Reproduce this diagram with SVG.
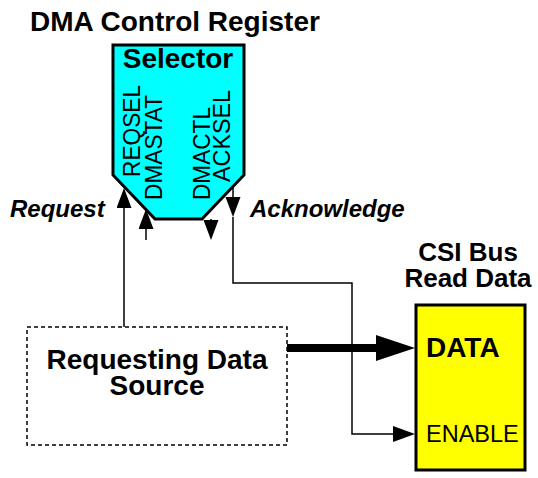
<svg xmlns="http://www.w3.org/2000/svg" width="538" height="478" viewBox="0 0 538 478">
<style>
text{font-family:"Liberation Sans",Arial,sans-serif;fill:#000}
.b{font-weight:bold}
.bi{font-weight:bold;font-style:italic;font-size:24px}
.big{font-size:28px;font-weight:bold}
.sig{font-size:23.5px}
.ln{fill:none;stroke:#000;stroke-width:1.5}
</style>
<defs>
<marker id="ah" markerUnits="userSpaceOnUse" markerWidth="21" markerHeight="16" refX="0" refY="7.5" orient="auto"><path d="M0,0 L20,7.5 L0,15 z" fill="#000"/></marker>
<marker id="ah2" markerUnits="userSpaceOnUse" markerWidth="23" markerHeight="17" refX="0" refY="8" orient="auto"><path d="M0,0 L22,8 L0,16 z" fill="#000"/></marker>
<marker id="ahb" markerUnits="userSpaceOnUse" markerWidth="40" markerHeight="27" refX="0" refY="13" orient="auto"><path d="M0,0 L39,13 L0,26 z" fill="#000"/></marker>
</defs>
<text class="big" x="30" y="31">DMA Control Register</text>
<g id="selector">
<path d="M113,45 L244,45 L244,175 L202,219 L155,219 L113,175 Z" fill="#00FFFF" stroke="#000" stroke-width="3"/>
<text class="big" x="178" y="68" text-anchor="middle">Selector</text>
<text class="sig" transform="translate(140,177) rotate(-90)" textLength="92" lengthAdjust="spacingAndGlyphs">REQSEL</text>
<text class="sig" transform="translate(162,200) rotate(-90)" textLength="105" lengthAdjust="spacingAndGlyphs">DMASTAT</text>
<text class="sig" transform="translate(210,200) rotate(-90)" textLength="93" lengthAdjust="spacingAndGlyphs">DMACTL</text>
<text class="sig" transform="translate(230,182) rotate(-90)" textLength="92" lengthAdjust="spacingAndGlyphs">ACKSEL</text>
</g>
<g id="source">
<rect x="27" y="327" width="260" height="118" fill="none" stroke="#000" stroke-width="1.5" stroke-dasharray="4,3"/>
<text class="big" x="157" y="369" text-anchor="middle">Requesting Data</text>
<text class="big" x="157" y="395" text-anchor="middle">Source</text>
</g>
<g id="csibus">
<text class="b" x="468" y="261" text-anchor="middle" font-size="26">CSI Bus</text>
<text class="b" x="468" y="287" text-anchor="middle" font-size="26">Read Data</text>
<rect x="416" y="305" width="109" height="165" fill="#FFFF00" stroke="#000" stroke-width="3"/>
<text class="big" x="426" y="357">DATA</text>
<text class="sig" x="426" y="442">ENABLE</text>
</g>
<g id="connectors">
<path class="ln" d="M124,327 L124,208" marker-end="url(#ah)"/>
<path class="ln" d="M146,240 L146,229" marker-end="url(#ah)"/>
<path class="ln" d="M211,219 L211,220" marker-end="url(#ah)"/>
<path class="ln" d="M233,187 L233,197" marker-end="url(#ah)"/>
<path class="ln" d="M233,217 L233,283 L352,283 L352,434 L393,434" marker-end="url(#ah2)"/>
<path d="M287,348 L376,348" fill="none" stroke="#000" stroke-width="8" marker-end="url(#ahb)"/>
<text class="bi" x="10" y="217">Request</text>
<text class="bi" x="250" y="217">Acknowledge</text>
</g>
</svg>
